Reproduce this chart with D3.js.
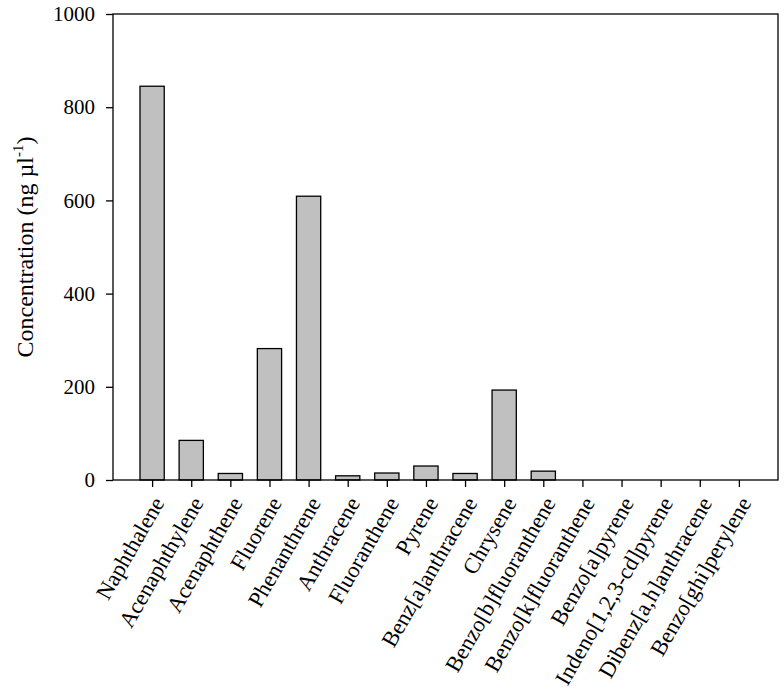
<!DOCTYPE html>
<html>
<head>
<meta charset="utf-8">
<script src="https://cdn.jsdelivr.net/npm/d3@7"></script>
<style>
  body { margin: 0; background: #fff; }
  text { font-family: "Liberation Serif", "Times New Roman", serif; fill: #000; }
</style>
</head>
<body>
<div id="chart"></div>
<script>
// Data
var compounds = ["Naphthalene", "Acenaphthylene", "Acenaphthene", "Fluorene", "Phenanthrene",
  "Anthracene", "Fluoranthene", "Pyrene", "Benz[a]anthracene", "Chrysene",
  "Benzo[b]fluoranthene", "Benzo[k]fluoranthene", "Benzo[a]pyrene",
  "Indeno[1,2,3-cd]pyrene", "Dibenz[a,h]anthracene", "Benzo[ghi]perylene"]
var concentrations = [845, 85, 14, 282, 609, 9, 15, 30, 14, 193, 19, 0, 0, 0, 0, 0]
var yTicks = [0, 200, 400, 600, 800, 1000]

// Setting up the canvas
var margin = {top: 14, right: 6, bottom: 212, left: 113},
    width = 784 - margin.left - margin.right,
    height = 692 - margin.top - margin.bottom;

var svg = d3.select("#chart")
  .append("svg")
  .attr("width", 784)
  .attr("height", 692)
  .append("g")
  .attr("transform", "translate(" + margin.left + "," + margin.top + ")");

// Scales
var xPositionScale = d3.scalePoint()
  .domain(compounds)
  .range([0, width])
  .padding(1)

var yPositionScale = d3.scaleLinear()
  .domain([0, 1000])
  .range([height, 0])

var barWidth = xPositionScale.step() * 0.62

// Bars
svg.selectAll("rect.bar")
  .data(compounds.map(function(c, i) { return {name: c, value: concentrations[i]} }))
  .enter().append("rect")
  .attr("class", "bar")
  .filter(function(d) { return d.value > 0 })
  .attr("x", function(d) { return xPositionScale(d.name) - barWidth / 2 })
  .attr("y", function(d) { return yPositionScale(d.value) })
  .attr("width", barWidth)
  .attr("height", function(d) { return height - yPositionScale(d.value) })
  .attr("fill", "#c0c0c0")
  .attr("stroke", "#000")
  .attr("stroke-width", 1.3)

// Axes
var xAxis = d3.axisBottom(xPositionScale)
  .tickSize(7)
  .tickSizeOuter(0)

var xg = svg.append("g")
  .attr("class", "axis x-axis")
  .attr("transform", "translate(0," + height + ")")
  .call(xAxis)

xg.selectAll("text")
  .attr("font-size", 22.5)
  .style("text-anchor", "end")
  .attr("dy", null)
  .attr("y", 0)
  .attr("transform", "translate(6,19) rotate(-60)")
  .attr("dominant-baseline", "central")

var yAxis = d3.axisLeft(yPositionScale)
  .tickValues(yTicks)
  .tickFormat(d3.format("d"))
  .tickSize(7)
  .tickSizeOuter(0)
  .tickPadding(11)

var yg = svg.append("g")
  .attr("class", "axis y-axis")
  .call(yAxis)

yg.selectAll("text").attr("font-size", 21)

svg.selectAll(".axis path, .axis line")
  .attr("stroke", "#000")
  .attr("stroke-width", 1.3)

svg.selectAll(".axis .domain").remove()

// Frame
svg.append("rect")
  .attr("x", 0)
  .attr("y", 0)
  .attr("width", width)
  .attr("height", height)
  .attr("fill", "none")
  .attr("stroke", "#000")
  .attr("stroke-width", 1.3)

// Axis title
var title = svg.append("text")
  .attr("transform", "translate(" + (-80) + "," + (height / 2) + ") rotate(-90)")
  .attr("text-anchor", "middle")
  .attr("font-size", 24)

title.append("tspan").text("Concentration (ng µl")
title.append("tspan").attr("font-size", 15).attr("dy", -10).text("-1")
title.append("tspan").attr("dy", 10).text(")")
</script>
</body>
</html>
